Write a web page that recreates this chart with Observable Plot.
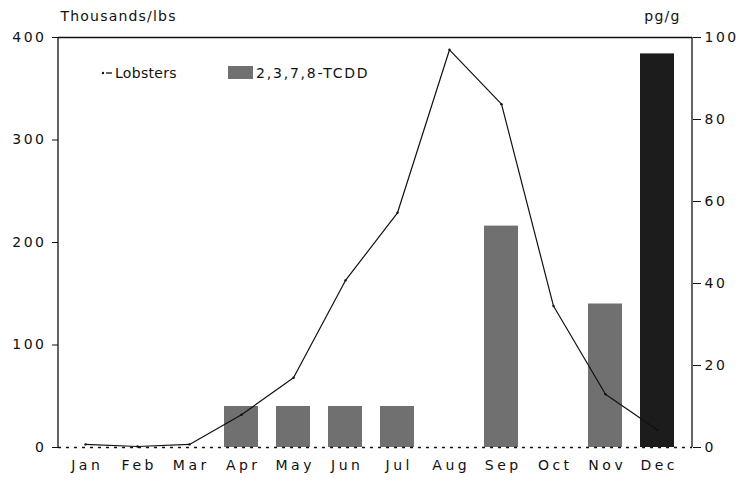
<!DOCTYPE html>
<html><head><meta charset="utf-8">
<script src="https://cdn.jsdelivr.net/npm/d3@7"></script>
<script src="https://cdn.jsdelivr.net/npm/@observablehq/plot@0.6"></script>
<style>
body{margin:0;background:#fff;}
#chart{position:relative;width:742px;height:487px;}
</style></head>
<body><div id="chart"></div>
<script>
const months = ["Jan","Feb","Mar","Apr","May","Jun","Jul","Aug","Sep","Oct","Nov","Dec"];
const lobsters = [3, 1, 3, 32, 68, 163, 229, 388, 335, 138, 52, 17];   // thousands of lbs
const tcdd = [0, 0, 0, 10, 10, 10, 10, 0, 54, 0, 35, 96];            // pg/g
const leftTicks = [0, 100, 200, 300, 400];
const rightTicks = [0, 20, 40, 60, 80, 100];
const ratio = 4; // 100 pg/g == 400 thousands lbs

const lineData = months.map((m, i) => ({month: m, value: lobsters[i]}));
const barData = months.map((m, i) => ({month: m, value: tcdd[i]})).filter(d => d.value > 0);

const font = "DejaVu Sans, Verdana, sans-serif";
const plot = Plot.plot({
  width: 742, height: 487,
  marginLeft: 58, marginRight: 50, marginTop: 37, marginBottom: 40,
  style: {fontFamily: font, fontSize: "14px", color: "#111", background: "#fff"},
  x: {type: "band", domain: months, paddingInner: 0.34, paddingOuter: 0.217, align: 0.35, label: null},
  y: {domain: [0, 400], label: null},
  marks: [
    Plot.barY(barData, {x: "month", y: d => d.value * ratio, fill: d => d.month === "Dec" ? "#1c1c1c" : "#707070"}),
    Plot.ruleY([400], {stroke: "#111", strokeWidth: 1.3}),
    Plot.ruleY([0], {stroke: "#111", strokeWidth: 1.3, strokeDasharray: "3,5"}),
    Plot.axisX({tickSize: 0, tickPadding: 13, fontSize: 14}),
    Plot.axisY({anchor: "left", ticks: leftTicks, tickSize: 6, tickPadding: 6, fontSize: 14}),
    Plot.axisY({anchor: "right", ticks: rightTicks.map(v => v * ratio), tickFormat: d => d / ratio, tickSize: 8, tickPadding: 4, fontSize: 14}),
    Plot.line(lineData, {x: "month", y: "value", stroke: "#111", strokeWidth: 1.2}),
    Plot.dot(lineData, {x: "month", y: "value", r: 1.2, fill: "#111"}),
    Plot.text(["Thousands/lbs"], {frameAnchor: "top-left", dx: 2, dy: -26, textAnchor: "start", fontSize: 14}),
    Plot.text(["pg/g"], {frameAnchor: "top-right", dx: -12, dy: -26, textAnchor: "end", fontSize: 14})
  ]
});
document.getElementById("chart").appendChild(plot);

const svg = d3.select(plot);
// letter spacing of labels like the wide-set original
svg.selectAll("[aria-label='y-axis tick label'] text").style("letter-spacing", "2.5px");
svg.selectAll("[aria-label='x-axis tick label'] text").style("letter-spacing", "3.5px").attr("dx", "1.75");
svg.selectAll("[aria-label='text'] text").style("letter-spacing", "1.2px");
// frame side lines
svg.append("line").attr("x1", 58).attr("x2", 58).attr("y1", 37).attr("y2", 447).attr("stroke", "#111").attr("stroke-width", 1.3);
svg.append("line").attr("x1", 692).attr("x2", 692).attr("y1", 37).attr("y2", 447).attr("stroke", "#111").attr("stroke-width", 1.3);
// legend
const lg = svg.append("g").attr("font-family", font).attr("font-size", 14).attr("fill", "#111").attr("text-anchor", "start");
lg.append("circle").attr("cx", 103).attr("cy", 73).attr("r", 1.2);
lg.append("line").attr("x1", 106).attr("x2", 112).attr("y1", 73).attr("y2", 73).attr("stroke", "#111").attr("stroke-width", 1.3);
lg.append("text").attr("x", 115).attr("y", 78).style("letter-spacing", "0.3px").text("Lobsters");
lg.append("rect").attr("x", 228).attr("y", 66).attr("width", 25).attr("height", 13).attr("fill", "#707070");
lg.append("text").attr("x", 256).attr("y", 78).style("letter-spacing", "1.8px").text("2,3,7,8-TCDD");
</script></body></html>
